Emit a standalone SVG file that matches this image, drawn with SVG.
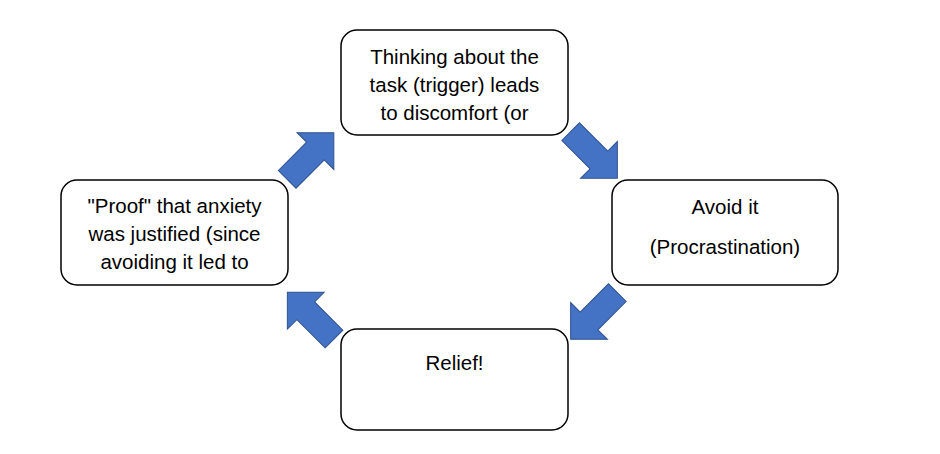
<svg xmlns="http://www.w3.org/2000/svg" width="940" height="454" viewBox="0 0 940 454">
<style>
.box{fill:#fff;stroke:#000;stroke-width:1.5}
.t{font-family:"Liberation Sans",Arial,sans-serif;font-size:20.5px;fill:#000;text-anchor:middle}
.arr{fill:#4472C4;stroke:#2F528F;stroke-width:1}
</style>
<defs>
<polygon id="blk" points="-33,-12.5 7,-12.5 7,-26 33,0 7,26 7,12.5 -33,12.5"/>
</defs>
<rect width="940" height="454" fill="#fff"/>
<g id="connectors">
<use href="#blk" class="arr" transform="translate(310.5,156) rotate(-45)"/>
<use href="#blk" class="arr" transform="translate(594,155) rotate(45)"/>
<use href="#blk" class="arr" transform="translate(594,316) rotate(135)"/>
<use href="#blk" class="arr" transform="translate(310.7,315.7) rotate(-135)"/>
</g>
<g id="node-trigger">
<rect class="box" x="341" y="30" width="227" height="105" rx="16"/>
<text class="t" x="454.5" y="64">Thinking about the</text>
<text class="t" x="454.5" y="92">task (trigger) leads</text>
<text class="t" x="454.5" y="120">to discomfort (or</text>
</g>
<g id="node-avoid">
<rect class="box" x="612" y="180" width="226" height="105" rx="16"/>
<text class="t" x="725" y="214">Avoid it</text>
<text class="t" x="725" y="254">(Procrastination)</text>
</g>
<g id="node-relief">
<rect class="box" x="341" y="329" width="227" height="101" rx="16"/>
<text class="t" x="454.5" y="370">Relief!</text>
</g>
<g id="node-proof">
<rect class="box" x="61" y="180" width="227" height="105" rx="16"/>
<text class="t" x="174.5" y="213">"Proof" that anxiety</text>
<text class="t" x="174.5" y="241">was justified (since</text>
<text class="t" x="174.5" y="269">avoiding it led to</text>
</g>
</svg>
